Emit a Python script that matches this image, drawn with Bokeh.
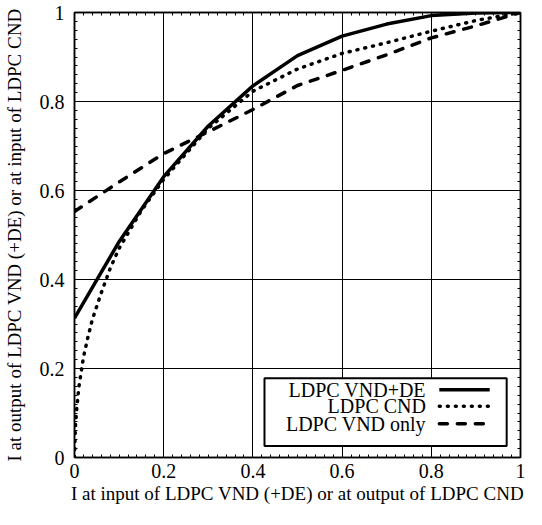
from bokeh.plotting import figure
from bokeh.models import Range1d, FixedTicker, LinearAxis
from bokeh.core.properties import value
from bokeh.embed import file_html
from bokeh.resources import INLINE

# ---- data ----
vnd_de_x = [0.0, 0.1, 0.2, 0.3, 0.4, 0.5, 0.6, 0.7, 0.8, 0.9, 1.0]
vnd_de_y = [0.313, 0.485, 0.631, 0.745, 0.835, 0.903, 0.947, 0.974, 0.993, 0.999, 1.0]

cnd_x = [0.0, 0.002, 0.005, 0.01, 0.02, 0.03, 0.04, 0.06, 0.08, 0.1, 0.15, 0.2, 0.3, 0.4, 0.5, 0.6, 0.7, 0.8, 0.9, 1.0]
cnd_y = [0.0, 0.07, 0.11, 0.16, 0.225, 0.27, 0.31, 0.37, 0.425, 0.47, 0.555, 0.625, 0.74, 0.823, 0.873, 0.908, 0.932, 0.958, 0.982, 1.0]

vnd_x = [0.0, 0.1, 0.2, 0.3, 0.4, 0.5, 0.6, 0.7, 0.8, 0.9, 1.0]
vnd_y = [0.553, 0.619, 0.683, 0.732, 0.782, 0.836, 0.870, 0.905, 0.943, 0.970, 1.0]

series_names = ["LDPC VND+DE", "LDPC CND", "LDPC VND only"]

tick_values = [0.0, 0.2, 0.4, 0.6, 0.8, 1.0]
tick_labels = ["0", "0.2", "0.4", "0.6", "0.8", "1"]

x_label = "I at input of LDPC VND (+DE) or at output of LDPC CND"
y_label = "I at output of LDPC VND (+DE) or at input of LDPC CND"

FONT = "Liberation Serif"

p = figure(width=526, height=509, x_range=Range1d(0, 1), y_range=Range1d(0, 1),
           output_backend="svg", toolbar_location=None,
           min_border_left=70, min_border_right=6, min_border_top=12, min_border_bottom=52)
p.background_fill_color = "white"
p.border_fill_color = "white"
p.outline_line_color = "black"
p.outline_line_width = 1.5

minor = [i / 50 for i in range(51) if i % 10 != 0]
overrides = {v: l for v, l in zip(tick_values, tick_labels)}

def style_axis(ax, labels=True):
    ax.axis_line_color = "black"
    ax.axis_line_width = 1.5
    ax.major_tick_in = 0
    ax.major_tick_out = 0
    ax.minor_tick_in = 3
    ax.minor_tick_out = 0
    ax.minor_tick_line_color = "black"
    if labels:
        ax.ticker = FixedTicker(ticks=tick_values, minor_ticks=minor)
        ax.major_label_overrides = overrides
        ax.major_label_text_font = FONT
        ax.major_label_text_color = "black"
        ax.major_label_text_font_size = "20px"
        ax.axis_label_text_font = FONT
        ax.axis_label_text_font_style = "normal"
        ax.axis_label_text_color = "black"
        ax.axis_label_text_font_size = "19px"
    else:
        ax.ticker = FixedTicker(ticks=[], minor_ticks=minor)
        ax.major_label_standoff = 0
        ax.axis_label_standoff = 0

style_axis(p.xaxis[0])
style_axis(p.yaxis[0])
p.xaxis[0].axis_label = x_label
p.yaxis[0].axis_label = y_label
p.xaxis[0].major_label_standoff = 6
p.yaxis[0].major_label_standoff = 10
p.xaxis[0].axis_label_standoff = 2
p.yaxis[0].axis_label_standoff = 12

top = LinearAxis()
right = LinearAxis()
style_axis(top, labels=False)
style_axis(right, labels=False)
p.add_layout(top, "above")
p.add_layout(right, "right")

for g in (p.xgrid[0], p.ygrid[0]):
    g.ticker = FixedTicker(ticks=tick_values)
    g.grid_line_color = "black"
    g.grid_line_width = 1
    g.grid_line_alpha = 1

LW = 3.5
DOT = "1 7"
DASH = "8 10"
p.line(vnd_de_x, vnd_de_y, line_color="black", line_width=LW, line_join="round")
p.line(cnd_x, cnd_y, line_color="black", line_width=LW, line_dash=DOT, line_cap="round")
p.line(vnd_x, vnd_y, line_color="black", line_width=LW, line_dash=DASH, line_cap="round")

# legend (custom, text on the left, sample on the right)
lx0, lx1, ly0, ly1 = 0.426, 0.969, 0.026, 0.178
p.quad(left=[lx0], right=[lx1], bottom=[ly0], top=[ly1], fill_color="white",
       line_color="black", line_width=2)
rows_y = [0.152, 0.115, 0.076]
p.text(x=[0.788] * 3, y=rows_y, text=series_names, text_align="right",
       text_baseline="middle", text_font=value(FONT), text_font_size="20px",
       text_color="black")
dashes = ["solid", DOT, DASH]
for yy, d in zip(rows_y, dashes):
    p.segment(x0=[0.818], x1=[0.931], y0=[yy], y1=[yy], line_color="black",
              line_width=LW, line_dash=d, line_cap="round" if d != "solid" else "butt")

open("out.html", "w").write(file_html(p, INLINE))
